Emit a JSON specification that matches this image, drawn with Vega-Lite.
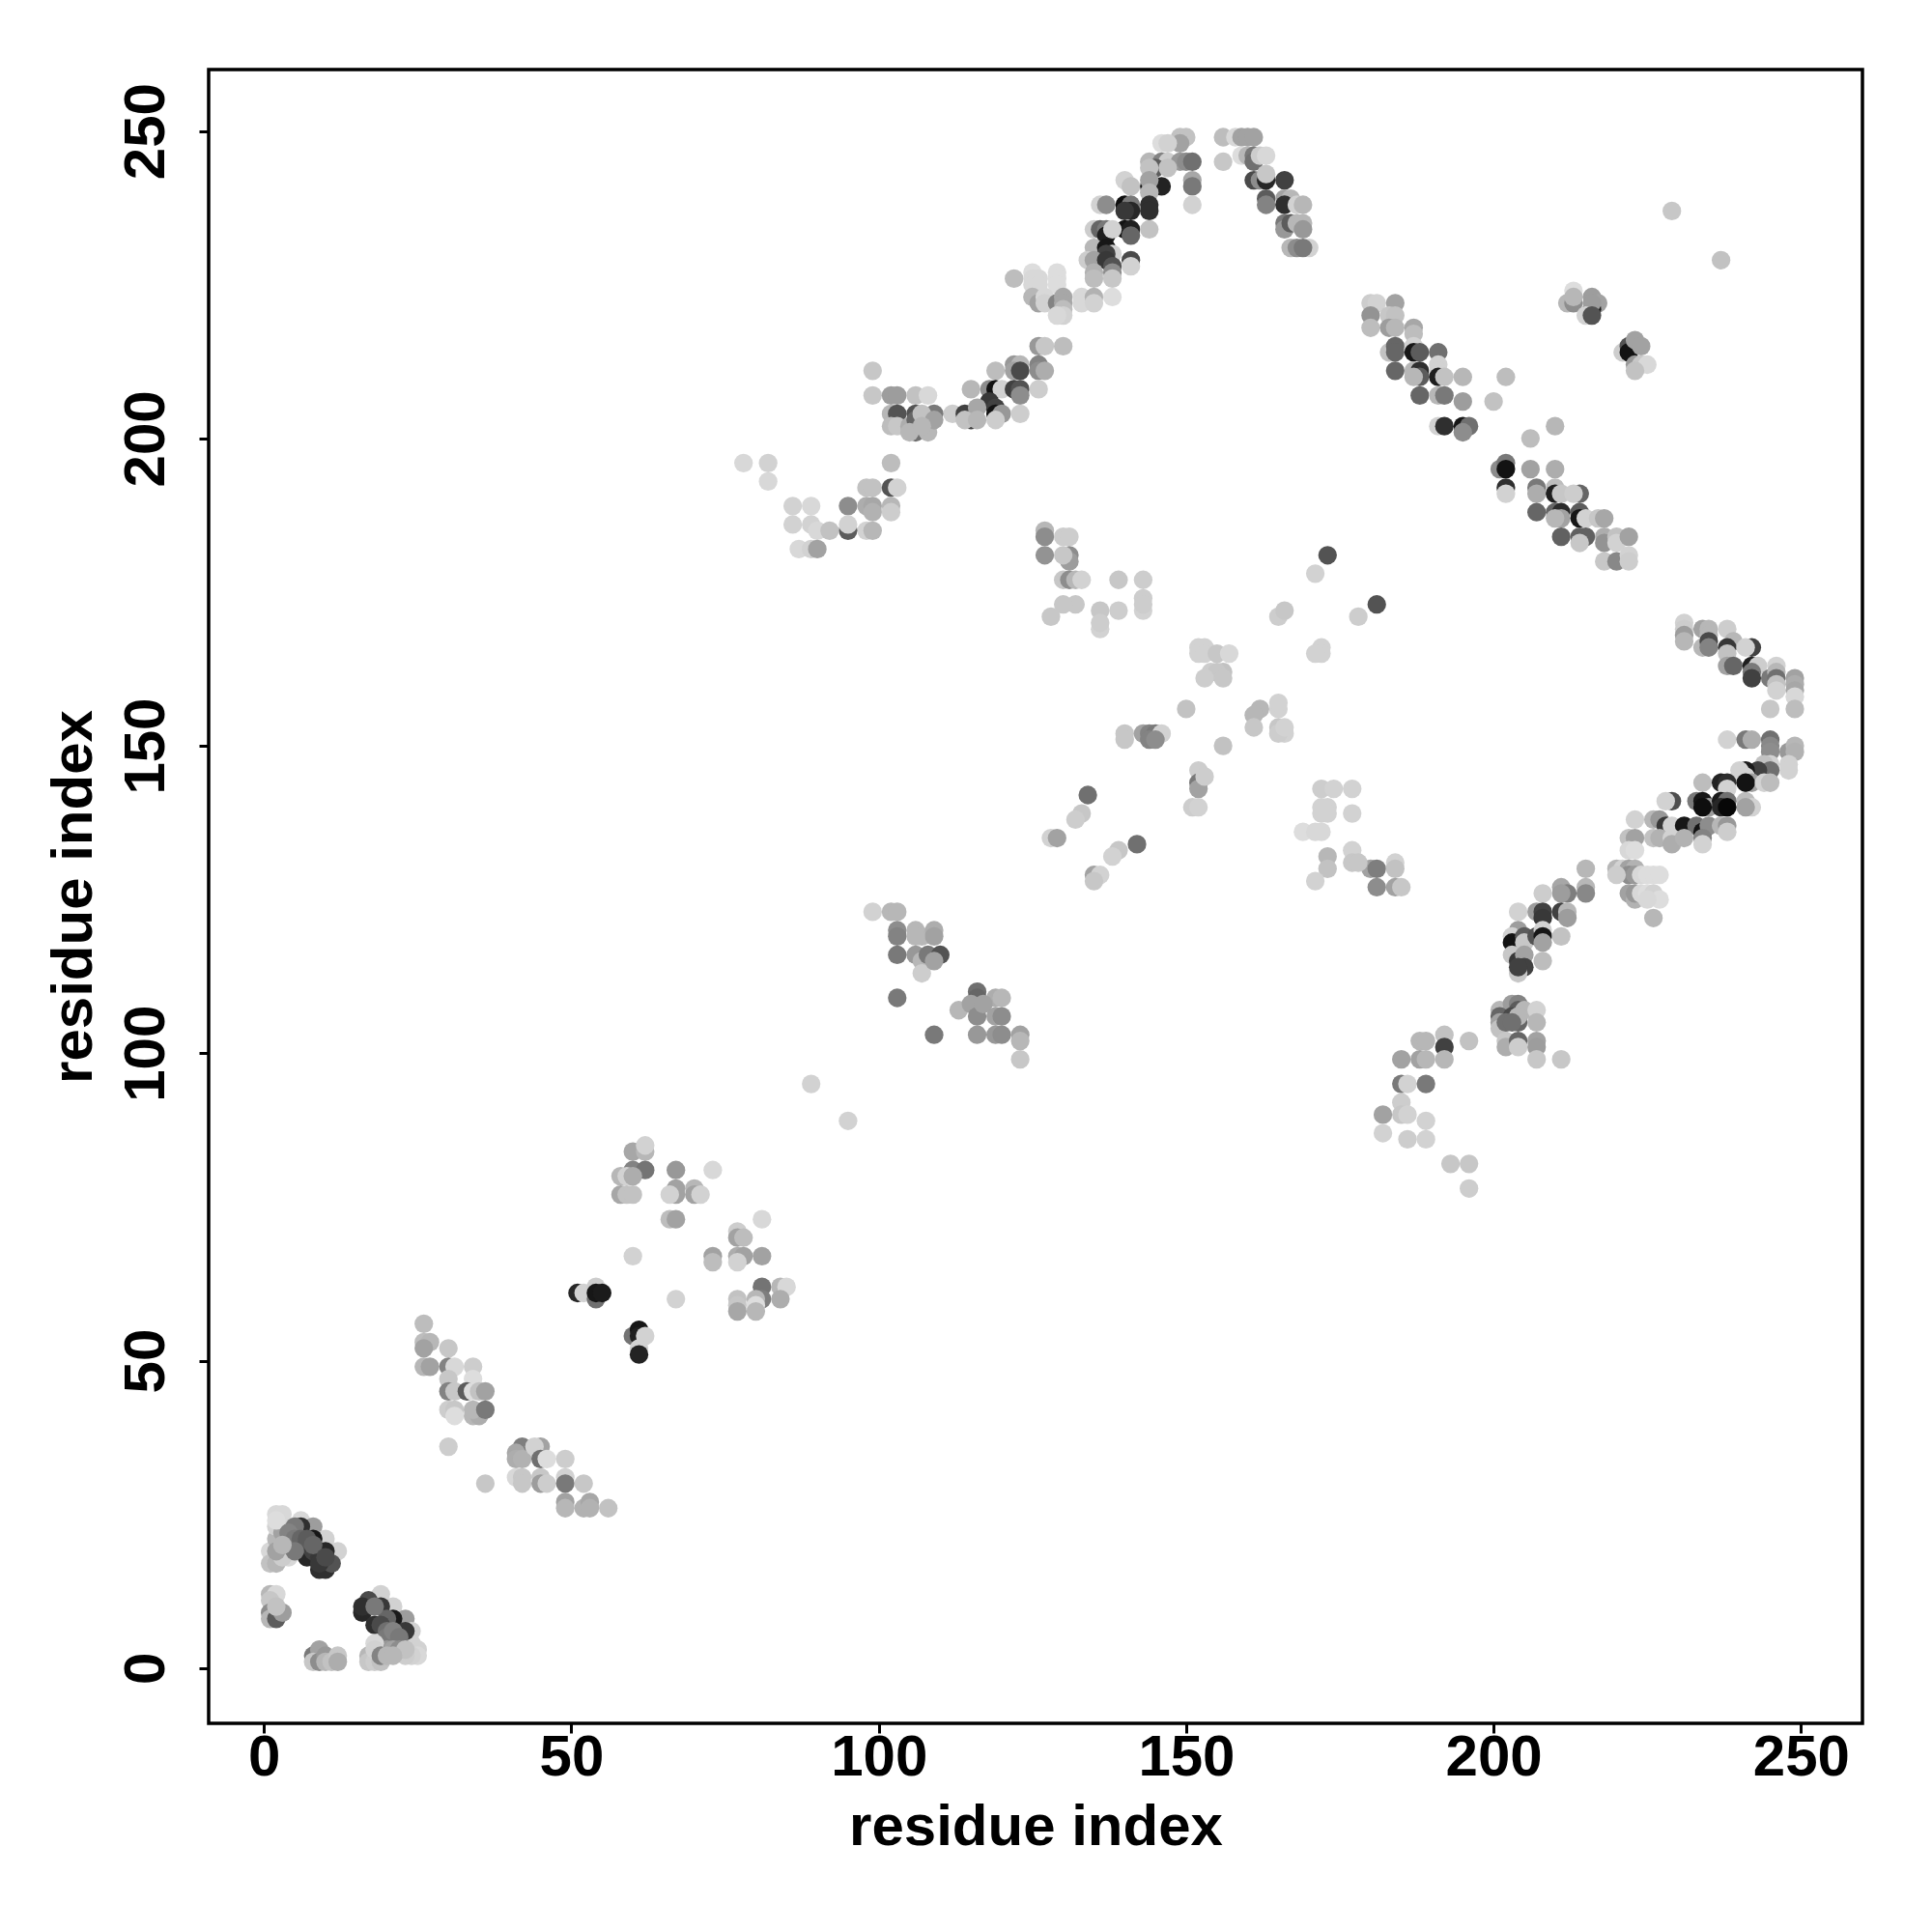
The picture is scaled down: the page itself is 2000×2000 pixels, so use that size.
{"$schema":"https://vega.github.io/schema/vega-lite/v6.json","autosize":{"type":"none"},"padding":{"left":216,"top":72,"right":72,"bottom":216},"width":1712,"height":1712,"background":"white","config":{"view":{"stroke":"#000000","strokeWidth":3.5,"fill":"white"}},"data":{"values":[
{"x":26,"y":56,"g":195},{"x":26,"y":53,"g":195},{"x":27,"y":53,"g":190},{"x":26,"y":52,"g":170},{"x":30,"y":52,"g":205},{"x":26,"y":49,"g":190},{"x":27,"y":49,"g":170},{"x":30,"y":49,"g":140},{"x":31,"y":49,"g":220},{"x":34,"y":49,"g":210},{"x":34,"y":47,"g":225},{"x":30,"y":47,"g":205},{"x":30,"y":45,"g":140},{"x":31,"y":45,"g":205},{"x":33,"y":45,"g":100},{"x":34,"y":45,"g":225},{"x":35,"y":45,"g":200},{"x":36,"y":45,"g":170},{"x":30,"y":42,"g":210},{"x":31,"y":42,"g":205},{"x":31,"y":41,"g":225},{"x":34,"y":41,"g":190},{"x":35,"y":41,"g":180},{"x":34,"y":42,"g":190},{"x":36,"y":42,"g":130},{"x":30,"y":36,"g":210},{"x":36,"y":30,"g":205},
{"x":42,"y":36,"g":135},{"x":41,"y":35,"g":175},{"x":41,"y":34,"g":180},{"x":42,"y":34,"g":185},{"x":45,"y":36,"g":170},{"x":44,"y":36,"g":215},{"x":45,"y":34,"g":120},{"x":46,"y":34,"g":225},{"x":49,"y":34,"g":210},{"x":41,"y":31,"g":220},{"x":42,"y":31,"g":205},{"x":42,"y":30,"g":205},{"x":45,"y":31,"g":205},{"x":45,"y":30,"g":165},{"x":46,"y":30,"g":210},{"x":49,"y":31,"g":215},{"x":49,"y":30,"g":130},{"x":52,"y":30,"g":205},{"x":49,"y":27,"g":170},{"x":49,"y":26,"g":190},{"x":52,"y":26,"g":185},{"x":53,"y":27,"g":175},{"x":53,"y":26,"g":185},{"x":56,"y":26,"g":200},
{"x":2,"y":25,"g":220},{"x":3,"y":25,"g":220},{"x":6,"y":24,"g":220},{"x":8,"y":23,"g":165},{"x":10,"y":21,"g":215},{"x":12,"y":19,"g":215},{"x":8,"y":21,"g":20},{"x":10,"y":19,"g":40},{"x":6,"y":23,"g":50},{"x":7,"y":18,"g":40},{"x":9,"y":16,"g":50},{"x":10,"y":16,"g":50},{"x":11,"y":17,"g":90},{"x":5,"y":23,"g":130},{"x":1,"y":19,"g":220},{"x":1,"y":17,"g":200},{"x":2,"y":17,"g":190},{"x":2,"y":21,"g":190},{"x":4,"y":18,"g":220},{"x":3,"y":18,"g":210},{"x":2,"y":19,"g":170},{"x":2,"y":23,"g":215},{"x":3,"y":22,"g":170},{"x":2,"y":24,"g":225},{"x":4,"y":22,"g":140},{"x":4,"y":20,"g":130},{"x":5,"y":21,"g":130},{"x":6,"y":21,"g":110},{"x":7,"y":20,"g":90},{"x":8,"y":19,"g":70},{"x":9,"y":18,"g":60},{"x":7,"y":21,"g":100},{"x":8,"y":20,"g":110},{"x":5,"y":19,"g":130},{"x":3,"y":20,"g":190},{"x":9,"y":17,"g":60},{"x":10,"y":18,"g":80},
{"x":1,"y":12,"g":190},{"x":2,"y":12,"g":220},{"x":1,"y":11,"g":205},{"x":1,"y":9,"g":150},{"x":1,"y":8,"g":190},{"x":2,"y":8,"g":100},{"x":3,"y":9,"g":165},{"x":2,"y":10,"g":200},
{"x":8,"y":2,"g":130},{"x":9,"y":3,"g":170},{"x":8,"y":1,"g":205},{"x":9,"y":1,"g":150},{"x":10,"y":2,"g":160},{"x":10,"y":1,"g":190},{"x":11,"y":1,"g":200},{"x":12,"y":2,"g":205},{"x":12,"y":1,"g":180},
{"x":19,"y":12,"g":215},{"x":21,"y":10,"g":215},{"x":23,"y":8,"g":165},{"x":24,"y":6,"g":215},{"x":24,"y":4,"g":215},{"x":25,"y":3,"g":215},{"x":25,"y":2,"g":220},{"x":24,"y":2,"g":215},{"x":23,"y":2,"g":210},{"x":16,"y":9,"g":40},{"x":17,"y":11,"g":80},{"x":16,"y":10,"g":50},{"x":19,"y":10,"g":60},{"x":21,"y":8,"g":25},{"x":18,"y":7,"g":50},{"x":20,"y":8,"g":110},{"x":23,"y":6,"g":60},{"x":18,"y":10,"g":130},{"x":19,"y":7,"g":80},{"x":20,"y":6,"g":120},{"x":20,"y":5,"g":130},{"x":21,"y":6,"g":140},{"x":22,"y":5,"g":130},{"x":20,"y":3,"g":160},{"x":21,"y":3,"g":170},{"x":22,"y":3,"g":150},{"x":23,"y":3,"g":200},{"x":18,"y":4,"g":220},{"x":17,"y":2,"g":190},{"x":17,"y":1,"g":205},{"x":18,"y":1,"g":210},{"x":19,"y":1,"g":200},{"x":18,"y":3,"g":215},{"x":19,"y":2,"g":140},{"x":20,"y":2,"g":190},{"x":21,"y":2,"g":190},
{"x":60,"y":84,"g":175},{"x":62,"y":84,"g":190},{"x":62,"y":85,"g":215},{"x":60,"y":81,"g":140},{"x":62,"y":81,"g":125},{"x":58,"y":80,"g":190},{"x":59,"y":80,"g":215},{"x":60,"y":80,"g":180},{"x":58,"y":77,"g":175},{"x":59,"y":77,"g":200},{"x":60,"y":77,"g":200},{"x":67,"y":81,"g":160},{"x":73,"y":81,"g":220},{"x":67,"y":78,"g":170},{"x":67,"y":77,"g":170},{"x":66,"y":77,"g":215},{"x":70,"y":78,"g":190},{"x":70,"y":77,"g":170},{"x":71,"y":77,"g":215},{"x":66,"y":73,"g":195},{"x":67,"y":73,"g":170},{"x":81,"y":73,"g":220},{"x":77,"y":71,"g":210},{"x":77,"y":70,"g":170},{"x":78,"y":70,"g":195},{"x":60,"y":67,"g":215},{"x":73,"y":67,"g":170},{"x":73,"y":66,"g":195},{"x":77,"y":67,"g":180},{"x":78,"y":67,"g":170},{"x":77,"y":66,"g":215},{"x":81,"y":67,"g":170},{"x":51,"y":61,"g":40},{"x":52,"y":61,"g":215},{"x":54,"y":62,"g":210},{"x":54,"y":60,"g":120},{"x":54,"y":61,"g":20},{"x":55,"y":61,"g":25},{"x":67,"y":60,"g":215},{"x":81,"y":62,"g":125},{"x":81,"y":60,"g":135},{"x":84,"y":62,"g":190},{"x":85,"y":62,"g":220},{"x":84,"y":60,"g":180},{"x":77,"y":60,"g":200},{"x":77,"y":59,"g":205},{"x":77,"y":58,"g":175},{"x":80,"y":60,"g":190},{"x":80,"y":59,"g":225},{"x":80,"y":58,"g":190},{"x":60,"y":54,"g":125},{"x":61,"y":55,"g":20},{"x":61,"y":54,"g":30},{"x":62,"y":54,"g":215},{"x":61,"y":52,"g":215},{"x":61,"y":51,"g":35},
{"x":156,"y":249,"g":195},{"x":158,"y":249,"g":220},{"x":159,"y":249,"g":170},{"x":160,"y":249,"g":170},{"x":161,"y":249,"g":170},{"x":149,"y":249,"g":200},{"x":150,"y":249,"g":200},{"x":149,"y":248,"g":170},{"x":146,"y":248,"g":225},{"x":147,"y":248,"g":215},{"x":144,"y":245,"g":190},{"x":146,"y":245,"g":140},{"x":147,"y":245,"g":210},{"x":149,"y":245,"g":160},{"x":150,"y":245,"g":150},{"x":151,"y":245,"g":120},{"x":145,"y":244,"g":100},{"x":147,"y":244,"g":200},{"x":144,"y":244,"g":200},{"x":156,"y":245,"g":205},{"x":159,"y":246,"g":225},{"x":160,"y":246,"g":190},{"x":161,"y":246,"g":130},{"x":161,"y":245,"g":120},{"x":162,"y":246,"g":210},{"x":163,"y":246,"g":220},{"x":151,"y":242,"g":175},{"x":151,"y":241,"g":130},{"x":151,"y":238,"g":215},{"x":140,"y":242,"g":215},{"x":141,"y":241,"g":200},{"x":144,"y":241,"g":20},{"x":145,"y":241,"g":130},{"x":146,"y":241,"g":35},{"x":144,"y":242,"g":170},{"x":144,"y":240,"g":190},{"x":161,"y":242,"g":80},{"x":162,"y":242,"g":150},{"x":163,"y":242,"g":40},{"x":163,"y":243,"g":205},{"x":166,"y":242,"g":70},{"x":163,"y":239,"g":100},{"x":163,"y":238,"g":140},{"x":166,"y":239,"g":170},{"x":167,"y":239,"g":190},{"x":166,"y":238,"g":50},{"x":168,"y":238,"g":215},{"x":169,"y":238,"g":190},{"x":166,"y":235,"g":130},{"x":166,"y":234,"g":160},{"x":167,"y":235,"g":100},{"x":168,"y":235,"g":190},{"x":169,"y":235,"g":190},{"x":169,"y":234,"g":160},{"x":167,"y":231,"g":190},{"x":168,"y":231,"g":150},{"x":170,"y":231,"g":215},{"x":169,"y":231,"g":130},{"x":136,"y":238,"g":215},{"x":137,"y":238,"g":150},{"x":140,"y":238,"g":10},{"x":141,"y":238,"g":130},{"x":141,"y":237,"g":40},{"x":140,"y":237,"g":60},{"x":144,"y":238,"g":50},{"x":144,"y":237,"g":50},{"x":135,"y":234,"g":210},{"x":136,"y":234,"g":110},{"x":137,"y":234,"g":130},{"x":137,"y":233,"g":30},{"x":140,"y":234,"g":15},{"x":141,"y":234,"g":30},{"x":141,"y":233,"g":110},{"x":144,"y":234,"g":200},{"x":138,"y":234,"g":215},{"x":135,"y":231,"g":190},{"x":137,"y":231,"g":20},{"x":138,"y":230,"g":215},{"x":137,"y":230,"g":70},{"x":134,"y":229,"g":210},{"x":135,"y":229,"g":170},{"x":137,"y":229,"g":60},{"x":138,"y":228,"g":90},{"x":141,"y":229,"g":80},{"x":141,"y":228,"g":215},{"x":135,"y":227,"g":185},{"x":138,"y":227,"g":150},{"x":135,"y":226,"g":195},{"x":138,"y":226,"g":205},{"x":122,"y":226,"g":195},{"x":125,"y":227,"g":225},{"x":126,"y":226,"g":220},{"x":125,"y":226,"g":220},{"x":129,"y":227,"g":225},{"x":129,"y":226,"g":225},{"x":125,"y":225,"g":220},{"x":126,"y":225,"g":220},{"x":129,"y":225,"g":225},{"x":125,"y":223,"g":190},{"x":126,"y":222,"g":170},{"x":127,"y":223,"g":220},{"x":127,"y":222,"g":215},{"x":129,"y":222,"g":140},{"x":130,"y":223,"g":175},{"x":130,"y":222,"g":175},{"x":130,"y":221,"g":195},{"x":130,"y":220,"g":215},{"x":129,"y":220,"g":220},{"x":133,"y":223,"g":220},{"x":133,"y":222,"g":220},{"x":135,"y":223,"g":185},{"x":135,"y":222,"g":215},{"x":138,"y":223,"g":225},
{"x":126,"y":215,"g":160},{"x":127,"y":215,"g":205},{"x":130,"y":215,"g":195},{"x":122,"y":212,"g":160},{"x":123,"y":212,"g":190},{"x":126,"y":212,"g":140},{"x":119,"y":211,"g":195},{"x":122,"y":211,"g":170},{"x":123,"y":211,"g":80},{"x":126,"y":211,"g":150},{"x":127,"y":211,"g":180},{"x":115,"y":208,"g":190},{"x":118,"y":208,"g":150},{"x":119,"y":208,"g":15},{"x":120,"y":208,"g":215},{"x":122,"y":208,"g":70},{"x":123,"y":208,"g":90},{"x":123,"y":207,"g":150},{"x":126,"y":208,"g":210},{"x":118,"y":206,"g":60},{"x":112,"y":204,"g":210},{"x":114,"y":204,"g":70},{"x":115,"y":203,"g":70},{"x":116,"y":205,"g":175},{"x":114,"y":203,"g":200},{"x":116,"y":203,"g":190},{"x":119,"y":205,"g":70},{"x":119,"y":204,"g":15},{"x":120,"y":204,"g":160},{"x":119,"y":203,"g":210},{"x":123,"y":204,"g":210},{"x":99,"y":211,"g":205},{"x":99,"y":207,"g":205},{"x":102,"y":207,"g":165},{"x":103,"y":207,"g":165},{"x":106,"y":207,"g":200},{"x":108,"y":207,"g":220},{"x":102,"y":204,"g":190},{"x":103,"y":204,"g":90},{"x":106,"y":204,"g":90},{"x":102,"y":202,"g":195},{"x":103,"y":202,"g":205},{"x":105,"y":202,"g":180},{"x":106,"y":203,"g":110},{"x":106,"y":201,"g":120},{"x":108,"y":203,"g":90},{"x":109,"y":204,"g":130},{"x":107,"y":204,"g":200},{"x":108,"y":201,"g":190},{"x":105,"y":201,"g":190},{"x":109,"y":203,"g":170},{"x":107,"y":202,"g":190},{"x":102,"y":196,"g":195},{"x":98,"y":192,"g":200},{"x":99,"y":192,"g":200},{"x":102,"y":192,"g":90},{"x":103,"y":192,"g":215},{"x":95,"y":189,"g":150},{"x":98,"y":189,"g":180},{"x":99,"y":189,"g":175},{"x":102,"y":189,"g":190},{"x":99,"y":188,"g":185},{"x":102,"y":188,"g":210},{"x":98,"y":185,"g":215},{"x":99,"y":185,"g":190},{"x":95,"y":185,"g":100},
{"x":127,"y":185,"g":190},{"x":127,"y":184,"g":150},{"x":127,"y":181,"g":155},{"x":130,"y":184,"g":210},{"x":131,"y":184,"g":210},{"x":131,"y":181,"g":150},{"x":131,"y":180,"g":165},{"x":130,"y":181,"g":205},{"x":130,"y":177,"g":205},{"x":131,"y":177,"g":150},{"x":132,"y":177,"g":190},{"x":133,"y":177,"g":215},{"x":139,"y":177,"g":205},{"x":143,"y":177,"g":210},{"x":128,"y":171,"g":205},{"x":132,"y":173,"g":205},{"x":130,"y":173,"g":205},{"x":136,"y":169,"g":215},{"x":136,"y":172,"g":205},{"x":139,"y":172,"g":210},{"x":136,"y":170,"g":210},{"x":143,"y":172,"g":215},{"x":143,"y":174,"g":210},{"x":143,"y":173,"g":210},
{"x":173,"y":181,"g":90},{"x":171,"y":178,"g":215},{"x":181,"y":173,"g":90},{"x":178,"y":171,"g":210},{"x":165,"y":171,"g":210},{"x":166,"y":172,"g":205},{"x":172,"y":166,"g":215},{"x":172,"y":165,"g":215},{"x":171,"y":165,"g":215},{"x":152,"y":166,"g":215},{"x":153,"y":166,"g":215},{"x":152,"y":165,"g":215},{"x":153,"y":165,"g":215},{"x":155,"y":165,"g":205},{"x":157,"y":165,"g":220},{"x":156,"y":162,"g":200},{"x":154,"y":162,"g":210},{"x":155,"y":162,"g":205},{"x":153,"y":161,"g":210},{"x":156,"y":161,"g":205},{"x":150,"y":156,"g":200},{"x":156,"y":150,"g":200},{"x":165,"y":156,"g":215},{"x":162,"y":156,"g":190},{"x":161,"y":155,"g":190},{"x":165,"y":157,"g":215},{"x":161,"y":153,"g":205},{"x":165,"y":153,"g":205},{"x":166,"y":152,"g":215},{"x":165,"y":152,"g":210},{"x":166,"y":153,"g":215},{"x":140,"y":152,"g":205},{"x":143,"y":152,"g":170},{"x":144,"y":152,"g":140},{"x":145,"y":152,"g":130},{"x":146,"y":152,"g":215},{"x":144,"y":151,"g":140},{"x":145,"y":151,"g":150},{"x":140,"y":151,"g":205},{"x":152,"y":146,"g":210},{"x":152,"y":144,"g":130},{"x":152,"y":143,"g":170},{"x":151,"y":140,"g":210},{"x":152,"y":140,"g":215},{"x":153,"y":145,"g":210},{"x":134,"y":142,"g":120},{"x":133,"y":139,"g":205},{"x":132,"y":138,"g":210},{"x":128,"y":135,"g":215},{"x":129,"y":135,"g":170},{"x":142,"y":134,"g":120},{"x":139,"y":133,"g":205},{"x":138,"y":132,"g":215},{"x":135,"y":129,"g":170},{"x":136,"y":129,"g":215},{"x":135,"y":128,"g":205},
{"x":172,"y":143,"g":210},{"x":174,"y":143,"g":215},{"x":177,"y":143,"g":215},{"x":172,"y":140,"g":215},{"x":173,"y":140,"g":215},{"x":177,"y":139,"g":215},{"x":172,"y":139,"g":215},{"x":173,"y":139,"g":215},{"x":169,"y":136,"g":225},{"x":171,"y":136,"g":220},{"x":172,"y":136,"g":220},{"x":173,"y":132,"g":190},{"x":173,"y":130,"g":200},{"x":177,"y":133,"g":215},{"x":177,"y":131,"g":205},{"x":180,"y":130,"g":170},{"x":181,"y":130,"g":135},{"x":184,"y":131,"g":215},{"x":184,"y":130,"g":200},{"x":181,"y":127,"g":150},{"x":184,"y":127,"g":170},{"x":185,"y":127,"g":205},{"x":171,"y":128,"g":215},{"x":178,"y":131,"g":205},
{"x":99,"y":123,"g":215},{"x":102,"y":123,"g":190},{"x":103,"y":123,"g":190},{"x":103,"y":120,"g":150},{"x":103,"y":119,"g":140},{"x":106,"y":120,"g":190},{"x":107,"y":119,"g":190},{"x":109,"y":120,"g":180},{"x":109,"y":119,"g":170},{"x":106,"y":119,"g":190},{"x":103,"y":116,"g":130},{"x":106,"y":116,"g":160},{"x":107,"y":115,"g":190},{"x":108,"y":116,"g":130},{"x":110,"y":116,"g":90},{"x":107,"y":113,"g":210},{"x":109,"y":115,"g":170},{"x":103,"y":109,"g":130},{"x":109,"y":103,"g":130},{"x":113,"y":107,"g":190},{"x":116,"y":110,"g":120},{"x":116,"y":109,"g":110},{"x":115,"y":108,"g":170},{"x":116,"y":106,"g":150},{"x":119,"y":109,"g":180},{"x":120,"y":109,"g":190},{"x":119,"y":106,"g":170},{"x":120,"y":106,"g":150},{"x":116,"y":103,"g":160},{"x":119,"y":103,"g":160},{"x":120,"y":103,"g":150},{"x":123,"y":103,"g":170},{"x":123,"y":102,"g":190},{"x":123,"y":99,"g":205},{"x":117,"y":108,"g":170},{"x":89,"y":95,"g":215},{"x":95,"y":89,"g":215},
{"x":78,"y":196,"g":220},{"x":82,"y":196,"g":215},{"x":82,"y":193,"g":220},{"x":86,"y":189,"g":215},{"x":89,"y":189,"g":220},{"x":86,"y":186,"g":215},{"x":89,"y":186,"g":215},{"x":90,"y":185,"g":220},{"x":92,"y":185,"g":200},{"x":87,"y":182,"g":220},{"x":89,"y":182,"g":215},{"x":90,"y":182,"g":170},{"x":95,"y":186,"g":215},
{"x":180,"y":222,"g":210},{"x":181,"y":222,"g":215},{"x":184,"y":222,"g":170},{"x":180,"y":220,"g":155},{"x":180,"y":218,"g":195},{"x":183,"y":220,"g":205},{"x":184,"y":220,"g":200},{"x":183,"y":218,"g":165},{"x":184,"y":218,"g":190},{"x":187,"y":218,"g":175},{"x":187,"y":217,"g":195},{"x":183,"y":214,"g":200},{"x":184,"y":215,"g":110},{"x":184,"y":214,"g":110},{"x":187,"y":215,"g":215},{"x":187,"y":214,"g":20},{"x":188,"y":214,"g":100},{"x":191,"y":214,"g":120},{"x":191,"y":212,"g":215},{"x":184,"y":211,"g":110},{"x":187,"y":211,"g":190},{"x":188,"y":211,"g":50},{"x":188,"y":210,"g":100},{"x":187,"y":210,"g":190},{"x":191,"y":211,"g":215},{"x":191,"y":210,"g":30},{"x":192,"y":210,"g":200},{"x":195,"y":210,"g":190},{"x":202,"y":210,"g":195},{"x":188,"y":207,"g":110},{"x":191,"y":207,"g":190},{"x":192,"y":207,"g":130},{"x":195,"y":206,"g":165},{"x":200,"y":206,"g":200},{"x":191,"y":202,"g":215},{"x":192,"y":202,"g":50},{"x":195,"y":202,"g":20},{"x":196,"y":202,"g":120},{"x":195,"y":201,"g":150},{"x":206,"y":200,"g":195},{"x":210,"y":202,"g":190},{"x":201,"y":195,"g":150},{"x":202,"y":196,"g":130},{"x":202,"y":195,"g":15},{"x":202,"y":192,"g":50},{"x":202,"y":191,"g":215},{"x":206,"y":195,"g":170},{"x":210,"y":195,"g":180},{"x":207,"y":192,"g":130},{"x":207,"y":191,"g":180},{"x":210,"y":192,"g":195},{"x":210,"y":191,"g":30},{"x":211,"y":191,"g":205},{"x":214,"y":191,"g":110},{"x":213,"y":191,"g":210},{"x":207,"y":188,"g":110},{"x":210,"y":188,"g":110},{"x":211,"y":188,"g":45},{"x":211,"y":187,"g":170},{"x":210,"y":187,"g":190},{"x":214,"y":188,"g":100},{"x":214,"y":187,"g":20},{"x":215,"y":187,"g":215},{"x":217,"y":187,"g":205},{"x":218,"y":187,"g":175},{"x":211,"y":184,"g":105},{"x":214,"y":184,"g":105},{"x":215,"y":184,"g":105},{"x":214,"y":183,"g":205},{"x":218,"y":184,"g":180},{"x":218,"y":183,"g":155},{"x":220,"y":184,"g":200},{"x":220,"y":183,"g":215},{"x":222,"y":184,"g":170},{"x":218,"y":180,"g":205},{"x":220,"y":180,"g":145},{"x":222,"y":181,"g":215},{"x":222,"y":180,"g":210},
{"x":212,"y":222,"g":190},{"x":213,"y":222,"g":150},{"x":213,"y":224,"g":225},{"x":213,"y":223,"g":190},{"x":216,"y":223,"g":165},{"x":217,"y":222,"g":170},{"x":216,"y":221,"g":25},{"x":216,"y":222,"g":165},{"x":215,"y":220,"g":215},{"x":216,"y":220,"g":90},{"x":221,"y":214,"g":210},{"x":222,"y":215,"g":90},{"x":222,"y":214,"g":15},{"x":223,"y":216,"g":170},{"x":224,"y":215,"g":170},{"x":223,"y":212,"g":160},{"x":224,"y":212,"g":205},{"x":225,"y":212,"g":220},{"x":223,"y":211,"g":200},{"x":229,"y":237,"g":205},{"x":237,"y":229,"g":200},
{"x":231,"y":170,"g":215},{"x":231,"y":169,"g":210},{"x":231,"y":168,"g":165},{"x":231,"y":167,"g":190},{"x":234,"y":169,"g":170},{"x":235,"y":169,"g":190},{"x":234,"y":166,"g":190},{"x":235,"y":168,"g":190},{"x":235,"y":167,"g":80},{"x":235,"y":166,"g":140},{"x":238,"y":169,"g":210},{"x":239,"y":167,"g":190},{"x":238,"y":166,"g":60},{"x":238,"y":165,"g":200},{"x":242,"y":166,"g":70},{"x":241,"y":166,"g":215},{"x":238,"y":163,"g":170},{"x":239,"y":163,"g":110},{"x":242,"y":163,"g":30},{"x":243,"y":163,"g":210},{"x":242,"y":162,"g":130},{"x":242,"y":161,"g":70},{"x":245,"y":161,"g":130},{"x":246,"y":163,"g":215},{"x":246,"y":162,"g":190},{"x":246,"y":161,"g":120},{"x":246,"y":160,"g":200},{"x":246,"y":159,"g":215},{"x":249,"y":161,"g":170},{"x":249,"y":160,"g":180},{"x":249,"y":159,"g":175},{"x":249,"y":158,"g":220},{"x":249,"y":156,"g":195},{"x":245,"y":156,"g":205},{"x":238,"y":151,"g":215},{"x":241,"y":151,"g":130},{"x":242,"y":151,"g":180},{"x":245,"y":151,"g":120},{"x":245,"y":150,"g":145},{"x":245,"y":149,"g":150},{"x":248,"y":149,"g":160},{"x":249,"y":150,"g":190},{"x":249,"y":149,"g":185},{"x":245,"y":147,"g":215},{"x":248,"y":147,"g":215},{"x":248,"y":146,"g":215},{"x":244,"y":147,"g":200},{"x":245,"y":146,"g":120},{"x":243,"y":146,"g":70},{"x":241,"y":146,"g":25},{"x":240,"y":146,"g":215},{"x":241,"y":145,"g":215},{"x":242,"y":144,"g":170},{"x":241,"y":144,"g":15},{"x":244,"y":144,"g":215},{"x":245,"y":144,"g":195},{"x":234,"y":144,"g":195},{"x":237,"y":144,"g":35},{"x":238,"y":144,"g":50},{"x":238,"y":143,"g":215},{"x":241,"y":141,"g":195},{"x":242,"y":140,"g":215},{"x":241,"y":140,"g":170},{"x":229,"y":141,"g":85},{"x":228,"y":141,"g":215},{"x":233,"y":141,"g":130},{"x":234,"y":141,"g":20},{"x":235,"y":140,"g":165},{"x":234,"y":140,"g":10},{"x":237,"y":141,"g":25},{"x":238,"y":141,"g":120},{"x":237,"y":140,"g":40},{"x":238,"y":140,"g":5},{"x":223,"y":138,"g":215},{"x":226,"y":138,"g":190},{"x":227,"y":138,"g":160},{"x":228,"y":137,"g":60},{"x":229,"y":137,"g":215},{"x":231,"y":137,"g":20},{"x":233,"y":137,"g":120},{"x":234,"y":136,"g":15},{"x":235,"y":137,"g":150},{"x":237,"y":137,"g":190},{"x":238,"y":137,"g":160},{"x":238,"y":136,"g":210},{"x":234,"y":135,"g":140},{"x":234,"y":134,"g":215},{"x":222,"y":135,"g":200},{"x":223,"y":135,"g":170},{"x":226,"y":135,"g":200},{"x":227,"y":135,"g":185},{"x":229,"y":135,"g":215},{"x":229,"y":134,"g":180},{"x":231,"y":135,"g":185},{"x":222,"y":133,"g":220},{"x":223,"y":133,"g":225},{"x":215,"y":130,"g":190},{"x":220,"y":130,"g":190},{"x":221,"y":130,"g":215},{"x":222,"y":130,"g":170},{"x":223,"y":130,"g":185},{"x":222,"y":129,"g":150},{"x":223,"y":129,"g":160},{"x":224,"y":129,"g":220},{"x":225,"y":129,"g":225},{"x":226,"y":129,"g":225},{"x":227,"y":129,"g":225},{"x":220,"y":129,"g":210},{"x":222,"y":126,"g":170},{"x":223,"y":125,"g":185},{"x":223,"y":126,"g":160},{"x":224,"y":126,"g":220},{"x":225,"y":126,"g":225},{"x":226,"y":126,"g":215},{"x":227,"y":125,"g":225},{"x":226,"y":122,"g":190},{"x":225,"y":125,"g":220},{"x":215,"y":127,"g":190},{"x":215,"y":126,"g":145},{"x":211,"y":127,"g":175},{"x":212,"y":126,"g":135},{"x":211,"y":126,"g":165},{"x":208,"y":126,"g":210},{"x":204,"y":123,"g":215},{"x":207,"y":123,"g":165},{"x":208,"y":123,"g":70},{"x":208,"y":122,"g":60},{"x":211,"y":123,"g":70},{"x":212,"y":123,"g":190},{"x":212,"y":122,"g":165},
{"x":204,"y":120,"g":165},{"x":203,"y":119,"g":215},{"x":203,"y":118,"g":15},{"x":205,"y":119,"g":100},{"x":205,"y":118,"g":205},{"x":207,"y":119,"g":90},{"x":208,"y":120,"g":215},{"x":208,"y":119,"g":20},{"x":208,"y":118,"g":170},{"x":211,"y":119,"g":200},{"x":203,"y":116,"g":205},{"x":204,"y":115,"g":60},{"x":205,"y":116,"g":170},{"x":205,"y":114,"g":70},{"x":208,"y":115,"g":195},{"x":204,"y":113,"g":205},{"x":204,"y":114,"g":70},{"x":201,"y":107,"g":190},{"x":203,"y":108,"g":165},{"x":204,"y":108,"g":140},{"x":204,"y":107,"g":100},{"x":205,"y":107,"g":190},{"x":207,"y":107,"g":215},{"x":201,"y":106,"g":110},{"x":201,"y":105,"g":170},{"x":201,"y":104,"g":200},{"x":203,"y":106,"g":80},{"x":204,"y":105,"g":110},{"x":202,"y":105,"g":120},{"x":207,"y":105,"g":190},{"x":204,"y":106,"g":190},{"x":203,"y":105,"g":120},{"x":202,"y":102,"g":205},{"x":202,"y":101,"g":180},{"x":204,"y":102,"g":110},{"x":204,"y":101,"g":210},{"x":207,"y":102,"g":170},{"x":207,"y":101,"g":165},{"x":207,"y":99,"g":205},{"x":211,"y":99,"g":205},{"x":196,"y":102,"g":200},
{"x":188,"y":102,"g":190},{"x":189,"y":102,"g":190},{"x":192,"y":103,"g":200},{"x":192,"y":101,"g":70},{"x":185,"y":99,"g":170},{"x":188,"y":99,"g":170},{"x":189,"y":99,"g":190},{"x":192,"y":99,"g":190},{"x":185,"y":95,"g":130},{"x":186,"y":95,"g":215},{"x":189,"y":95,"g":130},{"x":185,"y":92,"g":210},{"x":185,"y":90,"g":205},{"x":182,"y":90,"g":170},{"x":186,"y":90,"g":215},{"x":189,"y":89,"g":215},{"x":182,"y":87,"g":215},{"x":186,"y":86,"g":210},{"x":189,"y":86,"g":215},{"x":193,"y":82,"g":205},{"x":196,"y":82,"g":205},{"x":196,"y":78,"g":210}
]},"mark":{"type":"circle","opacity":1},"encoding":{"x":{"field":"x","type":"quantitative","scale":{"domain":[-9,260],"nice":false,"zero":false},"axis":{"values":[0,50,100,150,200,250],"grid":false,"domain":false,"tickSize":10,"tickWidth":3,"tickColor":"#000","labelFont":"Liberation Sans","labelFontWeight":"bold","labelFontSize":60,"labelColor":"#000","labelPadding":-4,"title":"residue index","titleFont":"Liberation Sans","titleFontWeight":"bold","titleFontSize":60,"titleColor":"#000","titlePadding":13}},"y":{"field":"y","type":"quantitative","scale":{"domain":[-9,260],"nice":false,"zero":false},"axis":{"values":[0,50,100,150,200,250],"grid":false,"domain":false,"tickSize":10,"tickWidth":3,"tickColor":"#000","labelFont":"Liberation Sans","labelFontWeight":"bold","labelFontSize":60,"labelColor":"#000","labelAngle":-90,"labelAlign":"center","labelBaseline":"bottom","labelPadding":24,"title":"residue index","titleFont":"Liberation Sans","titleFontWeight":"bold","titleFontSize":60,"titleColor":"#000","titlePadding":14}},"color":{"field":"g","type":"quantitative","scale":{"domain":[0,255],"range":["#000000","#ffffff"]},"legend":null},"size":{"value":372},"order":[{"field":"x"},{"field":"y"}]}}
